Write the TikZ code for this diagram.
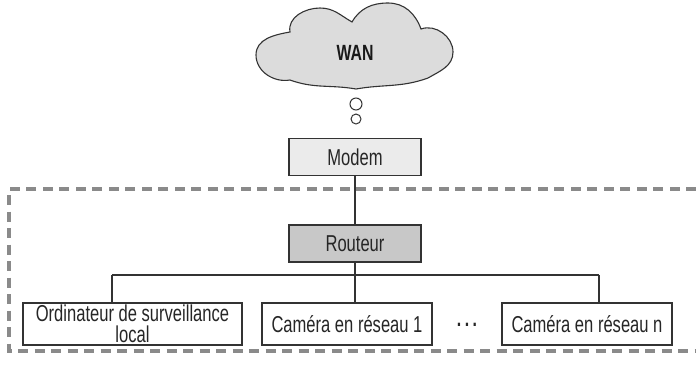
\documentclass[tikz,border=0pt]{standalone}
\usepackage{fontspec}
\setmainfont[FakeStretch=0.72]{Liberation Sans}
\definecolor{linec}{HTML}{333333}
\definecolor{cloudc}{HTML}{DCDCDC}
\definecolor{modemc}{HTML}{EBEBEB}
\definecolor{routc}{HTML}{C8C8C8}
\definecolor{dashc}{HTML}{8A8A8A}
\tikzset{
  lbl/.style={font=\fontsize{23}{24}\selectfont, text=black!85},
  box/.style={draw=linec, line width=1.1pt, fill=white, inner sep=0pt, align=center, lbl},
  conn/.style={draw=linec, line width=1.1pt},
  dashbox/.style={draw=dashc, line width=3.2pt, dash pattern=on 10pt off 6.5pt},
  bubble/.style={circle, draw=linec, line width=1pt, fill=white, inner sep=0pt}
}
\begin{document}
\begin{tikzpicture}[x=1pt,y=-1pt]
\useasboundingbox (0,0) rectangle (696,365);
% cloud
\draw[draw=linec, line width=1.1pt, fill=cloudc]
  (290,32) to[out=100,in=180] (320,8) to[out=0,in=150] (352,22)
  to[out=60,in=180] (388,3) to[out=0,in=110] (421,29)
  to[out=20,in=90] (453,52) to[out=-90,in=30] (428,78)
  to[out=-160,in=10] (356,89) to[out=170,in=-20] (290,80)
  to[out=-170,in=-90] (256,55) to[out=90,in=-170] cycle;
\node[lbl, font=\fontsize{22}{24}\selectfont\bfseries, text=black!90] (wan) at (355,53) {WAN};
\node[bubble, minimum size=12pt] (b1) at (356,104) {};
\node[bubble, minimum size=10pt] (b2) at (356,119) {};
% dashed area
\draw[dashbox] (696,189) -- (9,189) -- (9,351) -- (696,351);
% nodes
\node[box, fill=modemc, minimum width=132pt, minimum height=37pt] (modem) at (355,157) {Modem};
\node[box, fill=routc, minimum width=132pt, minimum height=37pt] (rout) at (355,243.5) {Routeur};
\node[box, minimum width=219pt, minimum height=42pt] (pc) at (132.5,324) {};
\node[lbl, align=center, inner sep=0pt] (pctxt) at (pc.center) {Ordinateur de surveillance\\[-2.5pt]local};
\node[box, minimum width=170pt, minimum height=42pt] (cam1) at (347,324) {Caméra en réseau 1};
\node[box, minimum width=170pt, minimum height=42pt] (camn) at (587,324) {Caméra en réseau n};
\node[lbl, font=\fontsize{22}{24}\selectfont\bfseries] (dots) at (467,325) {.\hspace{3.5pt}.\hspace{3.5pt}.};
% connectors
\coordinate (bl) at (112,275);
\coordinate (br) at (599,275);
\coordinate (bm) at (rout.south |- bl);
\draw[conn] (modem) -- (rout);
\draw[conn] (rout.south) -- (bm);
\draw[conn] (bl) -- (br);
\draw[conn] (bl) -- (bl |- pc.north);
\draw[conn] (bm) -- (bm |- cam1.north);
\draw[conn] (br) -- (br |- camn.north);
\end{tikzpicture}
\end{document}
